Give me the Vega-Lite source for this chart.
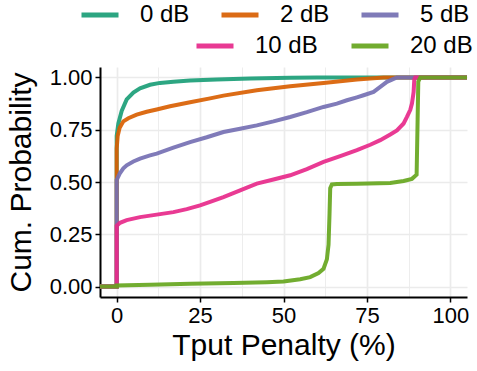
{
  "$schema": "https://vega.github.io/schema/vega-lite/v6.json",
  "autosize": "none",
  "width": 367,
  "height": 230,
  "padding": {"left": 100, "top": 67, "right": 10, "bottom": 74},
  "config": {
    "view": {"stroke": null},
    "font": "Liberation Sans",
    "axis": {
      "labelFont": "Liberation Sans",
      "titleFont": "Liberation Sans",
      "labelColor": "#000000",
      "titleColor": "#000000",
      "labelFontSize": 22,
      "titleFontSize": 30,
      "titleFontWeight": "normal",
      "domainColor": "#000000",
      "domainWidth": 2,
      "tickColor": "#000000",
      "tickWidth": 1.5,
      "tickSize": 5,
      "gridColor": "#EBEBEB"
    },
    "legend": {
      "labelFont": "Liberation Sans",
      "labelFontSize": 24,
      "labelColor": "#000000",
      "padding": 0
    }
  },
  "datasets": {
    "lowsnr": [
      {"snr": "0 dB", "x": -5, "y": 0}, {"snr": "0 dB", "x": 0, "y": 0}, {"snr": "0 dB", "x": 0, "y": 0.72},
      {"snr": "0 dB", "x": 0.5, "y": 0.78}, {"snr": "0 dB", "x": 1.5, "y": 0.84}, {"snr": "0 dB", "x": 3, "y": 0.895},
      {"snr": "0 dB", "x": 5, "y": 0.928}, {"snr": "0 dB", "x": 7, "y": 0.948}, {"snr": "0 dB", "x": 10, "y": 0.965},
      {"snr": "0 dB", "x": 13, "y": 0.974}, {"snr": "0 dB", "x": 17, "y": 0.98}, {"snr": "0 dB", "x": 22, "y": 0.985},
      {"snr": "0 dB", "x": 30, "y": 0.99}, {"snr": "0 dB", "x": 40, "y": 0.995}, {"snr": "0 dB", "x": 52, "y": 0.999},
      {"snr": "0 dB", "x": 60, "y": 1}, {"snr": "0 dB", "x": 105, "y": 1},
      {"snr": "2 dB", "x": -5, "y": 0}, {"snr": "2 dB", "x": 0, "y": 0}, {"snr": "2 dB", "x": 0, "y": 0.66},
      {"snr": "2 dB", "x": 0.3, "y": 0.72}, {"snr": "2 dB", "x": 0.9, "y": 0.76}, {"snr": "2 dB", "x": 2, "y": 0.79},
      {"snr": "2 dB", "x": 3.5, "y": 0.805}, {"snr": "2 dB", "x": 6, "y": 0.822}, {"snr": "2 dB", "x": 9, "y": 0.836},
      {"snr": "2 dB", "x": 12, "y": 0.847}, {"snr": "2 dB", "x": 16, "y": 0.862}, {"snr": "2 dB", "x": 22, "y": 0.881},
      {"snr": "2 dB", "x": 28, "y": 0.9}, {"snr": "2 dB", "x": 32, "y": 0.913}, {"snr": "2 dB", "x": 42, "y": 0.939},
      {"snr": "2 dB", "x": 52, "y": 0.958}, {"snr": "2 dB", "x": 62, "y": 0.974}, {"snr": "2 dB", "x": 72, "y": 0.99},
      {"snr": "2 dB", "x": 80, "y": 1}, {"snr": "2 dB", "x": 105, "y": 1},
      {"snr": "5 dB", "x": -5, "y": 0}, {"snr": "5 dB", "x": 0, "y": 0}, {"snr": "5 dB", "x": 0, "y": 0.51},
      {"snr": "5 dB", "x": 0.3, "y": 0.52}, {"snr": "5 dB", "x": 0.9, "y": 0.54}, {"snr": "5 dB", "x": 2, "y": 0.565},
      {"snr": "5 dB", "x": 3, "y": 0.58}, {"snr": "5 dB", "x": 5, "y": 0.598}, {"snr": "5 dB", "x": 7, "y": 0.612},
      {"snr": "5 dB", "x": 10, "y": 0.627}, {"snr": "5 dB", "x": 12, "y": 0.636}, {"snr": "5 dB", "x": 17, "y": 0.664},
      {"snr": "5 dB", "x": 22, "y": 0.691}, {"snr": "5 dB", "x": 27, "y": 0.714}, {"snr": "5 dB", "x": 32, "y": 0.739},
      {"snr": "5 dB", "x": 37, "y": 0.755}, {"snr": "5 dB", "x": 42, "y": 0.771}, {"snr": "5 dB", "x": 47, "y": 0.79},
      {"snr": "5 dB", "x": 52, "y": 0.811}, {"snr": "5 dB", "x": 57, "y": 0.834}, {"snr": "5 dB", "x": 62, "y": 0.859},
      {"snr": "5 dB", "x": 66, "y": 0.875}, {"snr": "5 dB", "x": 69, "y": 0.891}, {"snr": "5 dB", "x": 72, "y": 0.905},
      {"snr": "5 dB", "x": 74, "y": 0.915}, {"snr": "5 dB", "x": 77, "y": 0.931}, {"snr": "5 dB", "x": 79, "y": 0.955},
      {"snr": "5 dB", "x": 81, "y": 0.979}, {"snr": "5 dB", "x": 83, "y": 0.993}, {"snr": "5 dB", "x": 84, "y": 1},
      {"snr": "5 dB", "x": 105, "y": 1}
    ],
    "highsnr": [
      {"snr": "10 dB", "x": -5, "y": 0}, {"snr": "10 dB", "x": 0, "y": 0}, {"snr": "10 dB", "x": 0, "y": 0.29},
      {"snr": "10 dB", "x": 1, "y": 0.305}, {"snr": "10 dB", "x": 3, "y": 0.318}, {"snr": "10 dB", "x": 7, "y": 0.332},
      {"snr": "10 dB", "x": 12, "y": 0.344}, {"snr": "10 dB", "x": 17, "y": 0.356}, {"snr": "10 dB", "x": 21, "y": 0.37},
      {"snr": "10 dB", "x": 25, "y": 0.388}, {"snr": "10 dB", "x": 28, "y": 0.405}, {"snr": "10 dB", "x": 32, "y": 0.428},
      {"snr": "10 dB", "x": 37, "y": 0.46}, {"snr": "10 dB", "x": 42, "y": 0.492}, {"snr": "10 dB", "x": 47, "y": 0.512},
      {"snr": "10 dB", "x": 52, "y": 0.532}, {"snr": "10 dB", "x": 57, "y": 0.562}, {"snr": "10 dB", "x": 62, "y": 0.596},
      {"snr": "10 dB", "x": 67, "y": 0.624}, {"snr": "10 dB", "x": 72, "y": 0.652}, {"snr": "10 dB", "x": 76, "y": 0.678},
      {"snr": "10 dB", "x": 79, "y": 0.7}, {"snr": "10 dB", "x": 82, "y": 0.727}, {"snr": "10 dB", "x": 84, "y": 0.747},
      {"snr": "10 dB", "x": 86, "y": 0.78}, {"snr": "10 dB", "x": 87, "y": 0.811}, {"snr": "10 dB", "x": 88, "y": 0.845},
      {"snr": "10 dB", "x": 88.5, "y": 0.875}, {"snr": "10 dB", "x": 89, "y": 0.93}, {"snr": "10 dB", "x": 89.2, "y": 0.99},
      {"snr": "10 dB", "x": 89.5, "y": 1}, {"snr": "10 dB", "x": 105, "y": 1},
      {"snr": "20 dB", "x": -5, "y": 0}, {"snr": "20 dB", "x": 0, "y": 0}, {"snr": "20 dB", "x": 0, "y": 0.005},
      {"snr": "20 dB", "x": 10, "y": 0.009}, {"snr": "20 dB", "x": 22, "y": 0.013}, {"snr": "20 dB", "x": 35, "y": 0.017},
      {"snr": "20 dB", "x": 45, "y": 0.021}, {"snr": "20 dB", "x": 50, "y": 0.024}, {"snr": "20 dB", "x": 55, "y": 0.035},
      {"snr": "20 dB", "x": 58, "y": 0.045}, {"snr": "20 dB", "x": 60.5, "y": 0.065}, {"snr": "20 dB", "x": 62, "y": 0.085},
      {"snr": "20 dB", "x": 63, "y": 0.13}, {"snr": "20 dB", "x": 63.5, "y": 0.2}, {"snr": "20 dB", "x": 63.8, "y": 0.35},
      {"snr": "20 dB", "x": 64, "y": 0.47}, {"snr": "20 dB", "x": 64.5, "y": 0.488}, {"snr": "20 dB", "x": 66, "y": 0.49},
      {"snr": "20 dB", "x": 72, "y": 0.492}, {"snr": "20 dB", "x": 82, "y": 0.495}, {"snr": "20 dB", "x": 86, "y": 0.505},
      {"snr": "20 dB", "x": 88.5, "y": 0.515}, {"snr": "20 dB", "x": 89.9, "y": 0.535}, {"snr": "20 dB", "x": 90.2, "y": 0.8},
      {"snr": "20 dB", "x": 90.4, "y": 0.98}, {"snr": "20 dB", "x": 91, "y": 1}, {"snr": "20 dB", "x": 105, "y": 1}
    ]
  },
  "resolve": {"scale": {"color": "independent"}},
  "layer": [
    {
      "data": {"name": "lowsnr"},
      "mark": {"type": "line", "strokeWidth": 4, "opacity": 0.92, "clip": true},
      "encoding": {
        "x": {
          "field": "x", "type": "quantitative",
          "scale": {"domain": [-5, 105], "nice": false, "zero": false},
          "axis": {
            "title": "Tput Penalty (%)",
            "values": [0, 12.5, 25, 37.5, 50, 62.5, 75, 87.5, 100],
            "labelExpr": "datum.value % 25 === 0 ? datum.label : ''",
            "labelPadding": 3,
            "titlePadding": 4,
            "labelFlush": false,
            "tickOpacity": {"condition": {"test": "datum.value % 25 !== 0", "value": 0}, "value": 1},
            "gridWidth": {"condition": {"test": "datum.value % 25 !== 0", "value": 0.9}, "value": 1.7}
          }
        },
        "y": {
          "field": "y", "type": "quantitative",
          "scale": {"domain": [-0.05, 1.05], "nice": false, "zero": false},
          "axis": {
            "title": "Cum. Probability",
            "values": [0, 0.125, 0.25, 0.375, 0.5, 0.625, 0.75, 0.875, 1],
            "format": ".2f",
            "labelExpr": "(datum.value * 4) % 1 === 0 ? datum.label : ''",
            "labelPadding": 3,
            "titlePadding": 13,
            "labelFlush": false,
            "tickOpacity": {"condition": {"test": "(datum.value * 4) % 1 !== 0", "value": 0}, "value": 1},
            "gridWidth": {"condition": {"test": "(datum.value * 4) % 1 !== 0", "value": 0.9}, "value": 1.7}
          }
        },
        "color": {
          "field": "snr", "type": "nominal",
          "scale": {"domain": ["0 dB", "2 dB", "5 dB"], "range": ["#1B9E77", "#D95F02", "#7570B3"]},
          "legend": {
            "title": null, "orient": "none", "direction": "horizontal",
            "legendX": -21, "legendY": -73,
            "symbolType": "stroke", "symbolSize": 1369, "symbolStrokeWidth": 5,
            "labelOffset": 19, "columnPadding": 21
          }
        },
        "order": {"value": null}
      }
    },
    {
      "data": {"name": "highsnr"},
      "mark": {"type": "line", "strokeWidth": 4, "opacity": 0.92, "clip": true},
      "encoding": {
        "x": {"field": "x", "type": "quantitative"},
        "y": {"field": "y", "type": "quantitative"},
        "color": {
          "field": "snr", "type": "nominal",
          "scale": {"domain": ["10 dB", "20 dB"], "range": ["#E7298A", "#66A61E"]},
          "legend": {
            "title": null, "orient": "none", "direction": "horizontal",
            "legendX": 94, "legendY": -42,
            "symbolType": "stroke", "symbolSize": 1369, "symbolStrokeWidth": 5,
            "labelOffset": 19, "columnPadding": 23
          }
        },
        "order": {"value": null}
      }
    }
  ]
}
